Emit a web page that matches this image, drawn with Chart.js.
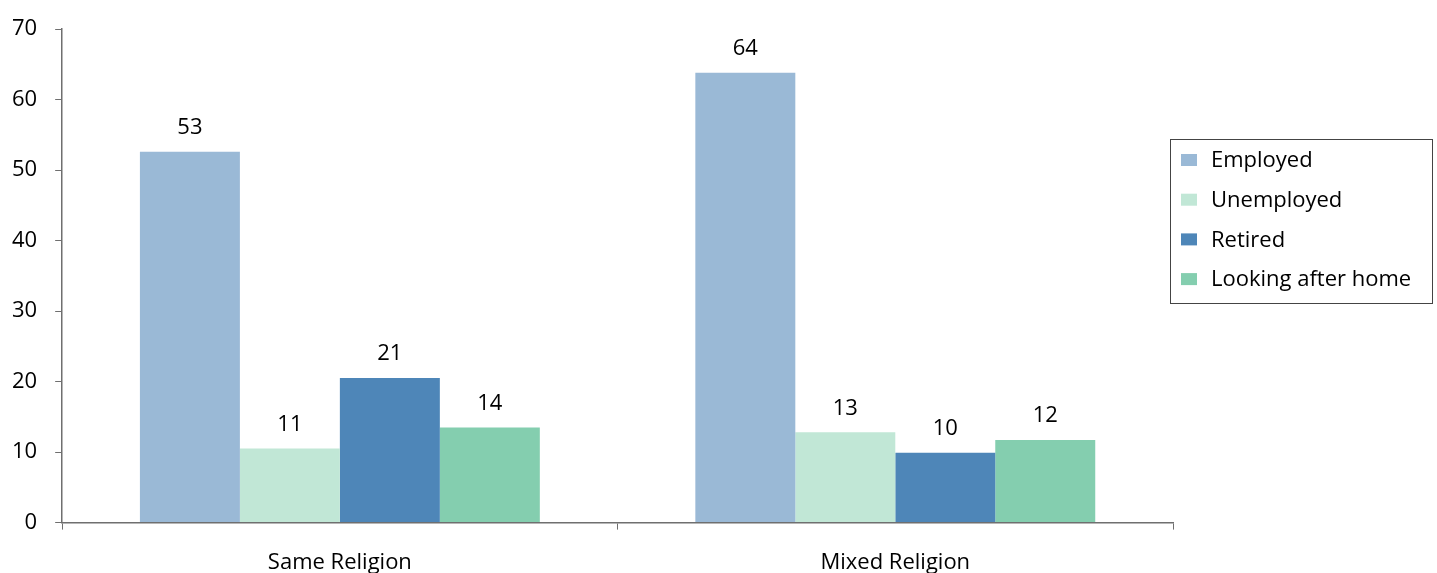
<!DOCTYPE html>
<html>
<head>
<meta charset="utf-8">
<script src="https://cdn.jsdelivr.net/npm/chart.js@4/dist/chart.umd.min.js"></script>
<style>
  html, body { margin: 0; padding: 0; background: #fff; }
  #wrap { width: 1437px; height: 573px; position: relative; }
</style>
</head>
<body>
<div id="wrap"><canvas id="chart"></canvas></div>
<script>
// --- data ---
const categories  = ['Same Religion', 'Mixed Religion'];
const seriesNames = ['Employed', 'Unemployed', 'Retired', 'Looking after home'];
const employed    = [52.6, 63.8];
const unemployed  = [10.5, 12.8];
const retired     = [20.5, 9.9];
const lookingHome = [13.5, 11.7];
const yTicks      = [0, 10, 20, 30, 40, 50, 60, 70];

const COLORS = ['#9AB9D6', '#C1E7D6', '#4E86B8', '#84CEAF'];
const FONT   = '"Open Sans", Lato, sans-serif';
const FSIZE  = 22;
const AXIS   = '#6f6f6f';

// value labels above each bar
const valueLabels = {
  id: 'valueLabels',
  afterDatasetsDraw(chart) {
    const { ctx } = chart;
    ctx.save();
    ctx.font = `${FSIZE}px ${FONT}`;
    ctx.fillStyle = '#000';
    ctx.textAlign = 'center';
    ctx.textBaseline = 'bottom';
    chart.data.datasets.forEach((ds, i) => {
      chart.getDatasetMeta(i).data.forEach((bar, j) => {
        ctx.fillText(String(Math.round(ds.data[j])), bar.x, bar.y - 13);
      });
    });
    ctx.restore();
  },
};

// boxed legend on the right
const boxLegend = {
  id: 'boxLegend',
  afterDraw(chart) {
    const { ctx } = chart;
    const x = 1170.5, y = 139.5, w = 262, h = 164;
    ctx.save();
    ctx.strokeStyle = '#444';
    ctx.lineWidth = 1;
    ctx.strokeRect(x, y, w, h);
    ctx.font = `${FSIZE}px ${FONT}`;
    ctx.textBaseline = 'middle';
    chart.data.datasets.forEach((ds, i) => {
      const cy = 160 + i * 39.7;
      ctx.fillStyle = ds.backgroundColor;
      ctx.fillRect(1181, cy - 6, 16, 12);
      ctx.fillStyle = '#000';
      ctx.fillText(ds.label, 1211, cy + 1);
    });
    ctx.restore();
  },
};

const seriesData = [employed, unemployed, retired, lookingHome];

new Chart(document.getElementById('chart'), {
  type: 'bar',
  data: {
    labels: categories,
    datasets: seriesNames.map((name, i) => ({
      label: name,
      data: seriesData[i],
      backgroundColor: COLORS[i],
      borderWidth: 0,
      barPercentage: 1,
      categoryPercentage: 0.72,
    })),
  },
  options: {
    responsive: true,
    maintainAspectRatio: false,
    animation: false,
    layout: { padding: { left: -6, right: 264, top: 8, bottom: -23 } },
    plugins: {
      legend:  { display: false },
      tooltip: { enabled: false },
    },
    scales: {
      x: {
        grid:   { drawOnChartArea: false, color: AXIS, tickLength: 7, offset: true },
        border: { color: AXIS, width: 1.5 },
        ticks:  { color: '#000', font: { family: FONT, size: FSIZE }, padding: 20 },
      },
      y: {
        min: 0,
        max: 70,
        afterBuildTicks: axis => { axis.ticks = yTicks.map(v => ({ value: v })); },
        grid:   { drawOnChartArea: false, color: AXIS, tickLength: 7 },
        border: { color: AXIS, width: 1.5 },
        ticks:  { color: '#000', font: { family: FONT, size: FSIZE, lineHeight: 1 }, padding: 18 },
      },
    },
  },
  plugins: [valueLabels, boxLegend],
});
</script>
</body>
</html>
